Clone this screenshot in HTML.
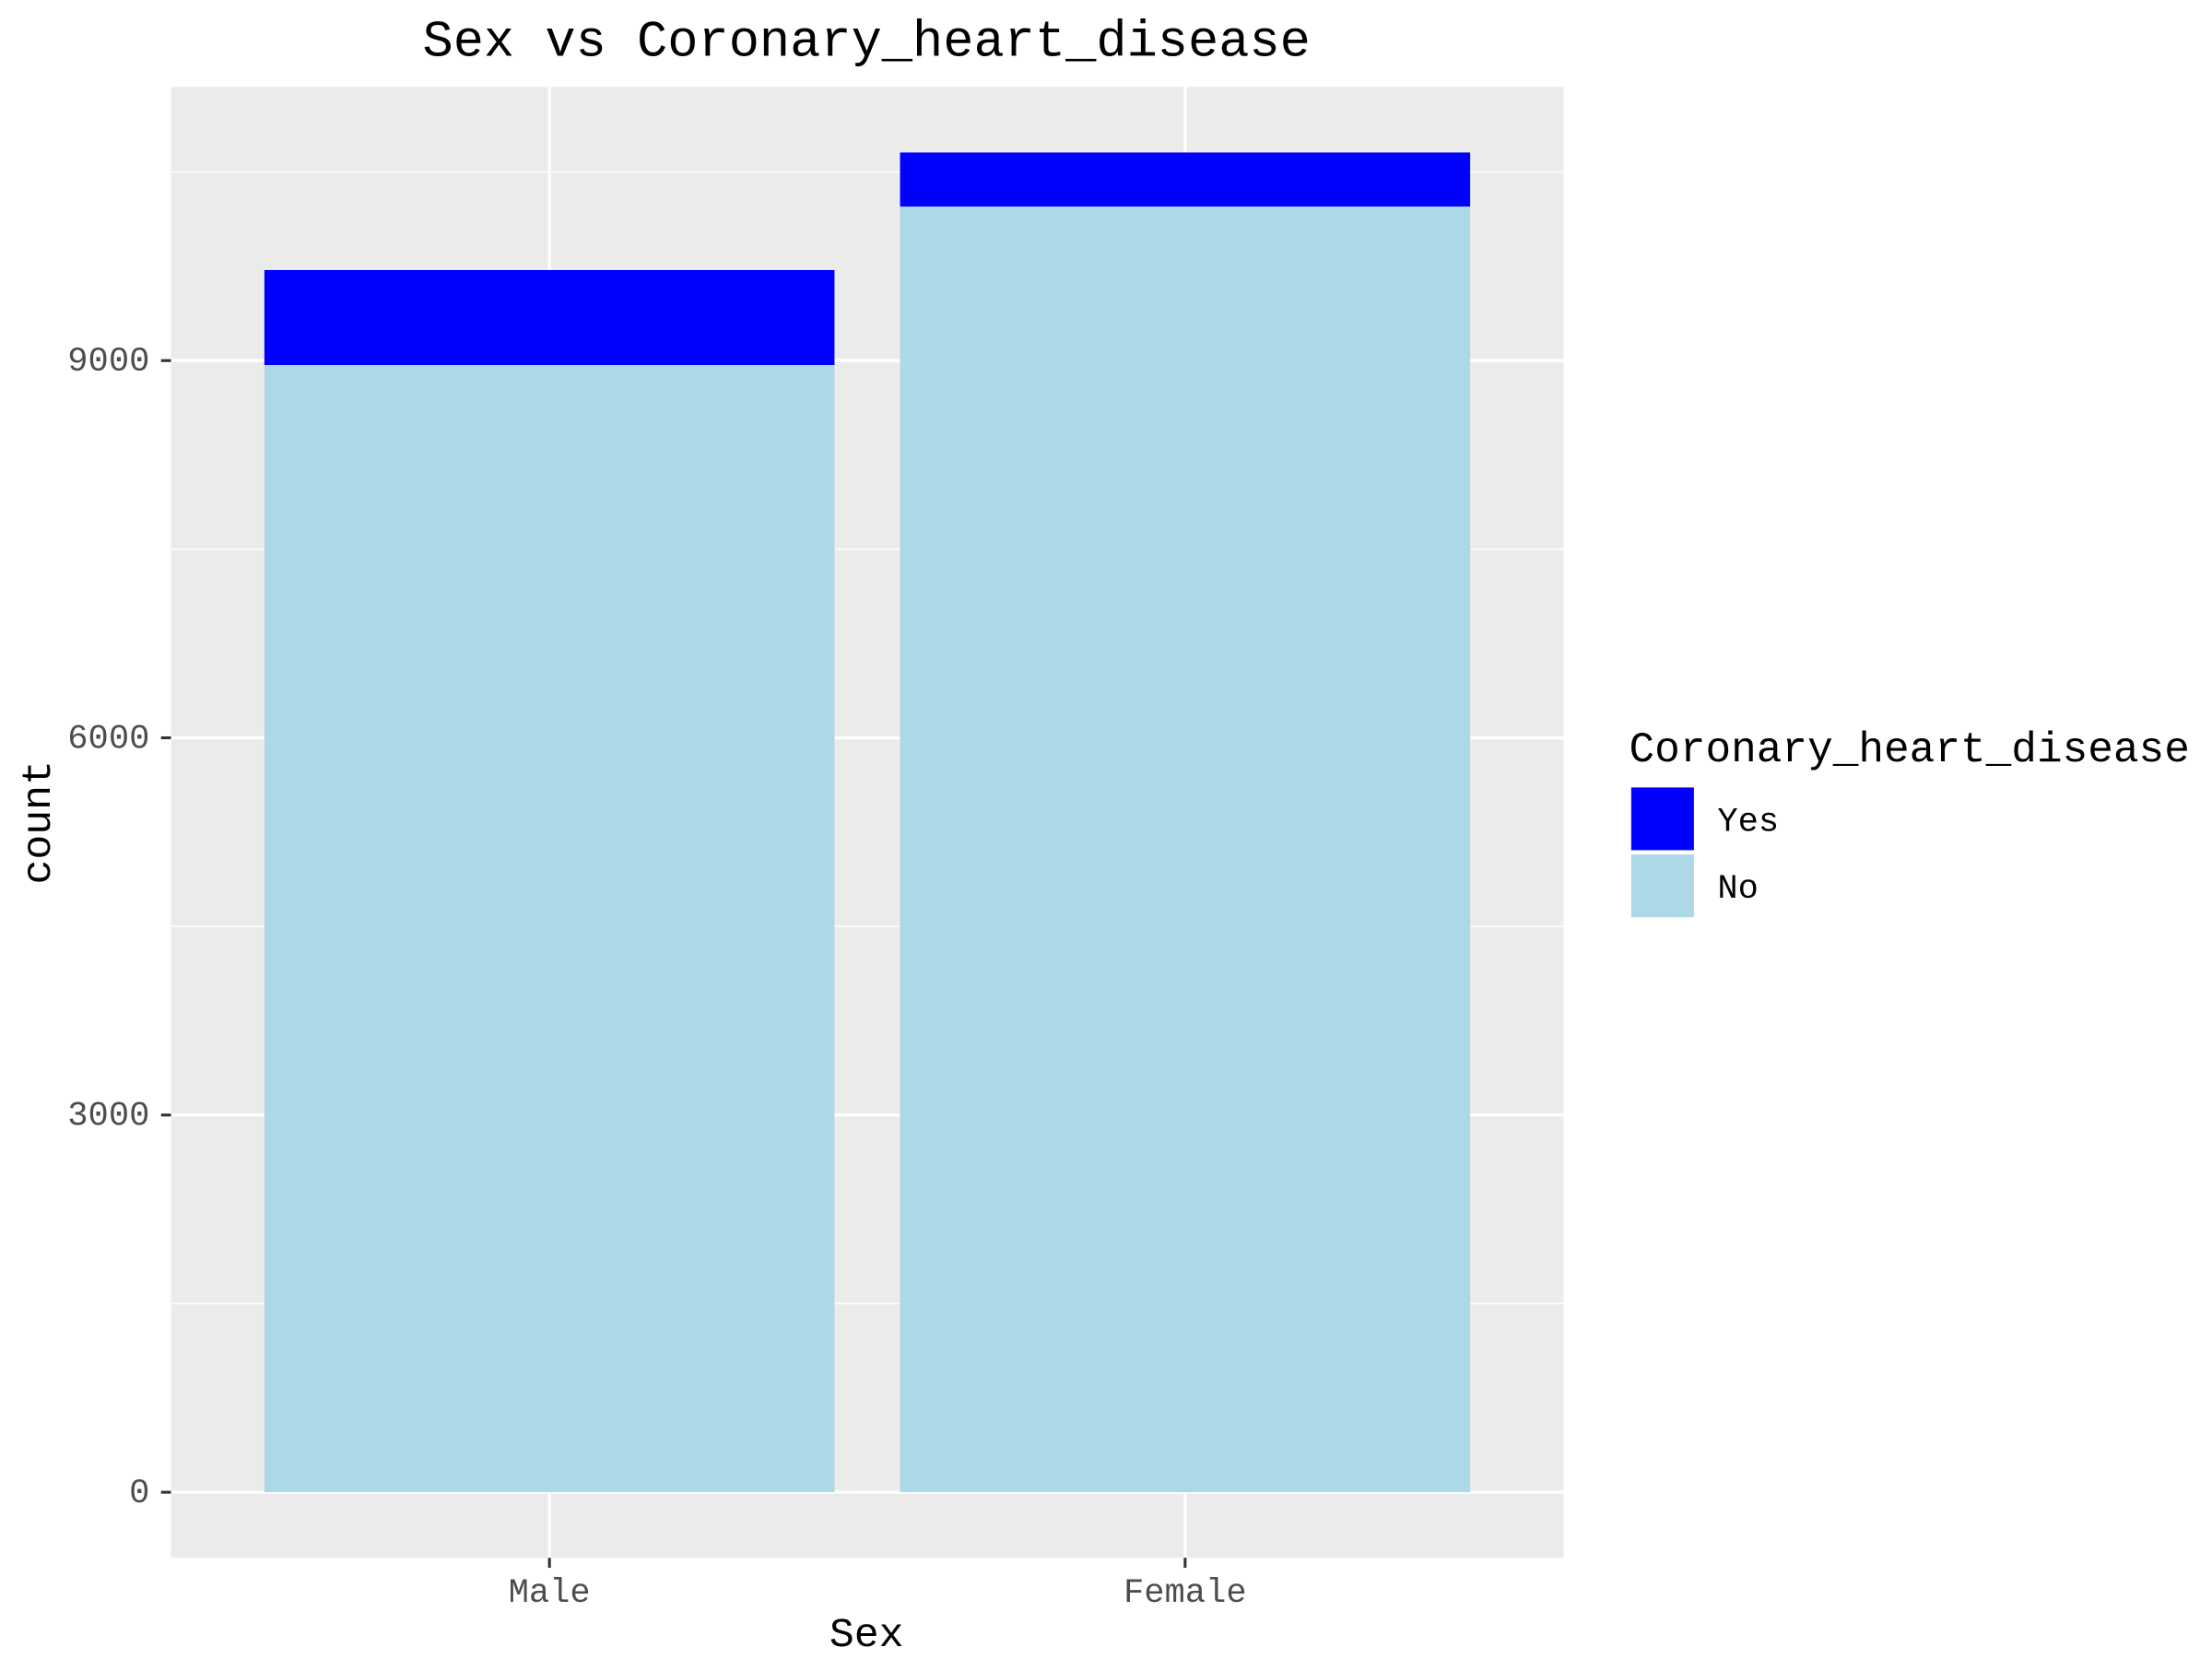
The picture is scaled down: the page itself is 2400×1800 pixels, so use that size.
<!DOCTYPE html>
<html><head><meta charset="utf-8"><style>
html,body{margin:0;padding:0;background:#fff;}
svg{display:block;}
text{font-family:"Liberation Mono",monospace;}
</style></head><body>
<svg id="chart" width="2400" height="1800" viewBox="0 0 1552 1164" preserveAspectRatio="none">
<rect x="0" y="0" width="1552" height="1164" fill="#fff"/>
<rect x="120" y="61" width="977" height="1032" fill="#ebebeb"/>
<g id="grid"></g>
<g id="bars"></g>
<g id="axes"></g>
<text x="608" y="39" font-size="35.8" text-anchor="middle" fill="#000">Sex vs Coronary_heart_disease</text>
<text x="608" y="1155" font-size="29" text-anchor="middle" fill="#000">Sex</text>
<text x="35" y="577" font-size="29" text-anchor="middle" fill="#000" transform="rotate(-90 35 577)">count</text>
<g>
<text x="1143" y="534" font-size="29.8" fill="#000">Coronary_heart_disease</text>
<rect x="1144" y="552" width="45" height="45" fill="#0000ff" stroke="#fff"/>
<text x="1205" y="583" font-size="24" fill="#000">Yes</text>
<rect x="1144" y="599" width="45" height="45" fill="#add8e6" stroke="#fff"/>
<text x="1205" y="630" font-size="24" fill="#000">No</text>
</g>
</svg>
<script>
const categories = ["Male", "Female"];
const noValues = [8965, 10225];
const yesValues = [755, 430];
const yTicks = [0, 3000, 6000, 9000];
const yMinor = [1500, 4500, 7500, 10500];

const NS = "http://www.w3.org/2000/svg";
const y0 = 1047, pxPer = (1047 - 253) / 9000;
function yScale(v){ return y0 - v * pxPer; }
const xCenters0 = 385.5, xStep = 446, barW = 400;
function xScale(i){ return xCenters0 + i * xStep; }
function mk(tag, attrs, parent){ const e=document.createElementNS(NS,tag); for(const k in attrs) e.setAttribute(k,attrs[k]); parent.appendChild(e); return e; }

const grid = document.getElementById('grid');
const bars = document.getElementById('bars');
const axes = document.getElementById('axes');

yMinor.forEach(v=>{
  const l = mk('line',{x1:120,x2:1097,y1:yScale(v),y2:yScale(v),stroke:'#fff','stroke-width':1},grid);
  
  
});
yTicks.forEach(v=>{
  const l = mk('line',{x1:120,x2:1097,y1:yScale(v),y2:yScale(v),stroke:'#fff','stroke-width':2.2},grid);
  
  
  const t = mk('line',{x1:113,x2:120,y1:yScale(v),y2:yScale(v),stroke:'#333','stroke-width':2},axes);
  
  
  const tx = mk('text',{x:105,y:yScale(v)+7,'font-size':24,'text-anchor':'end',fill:'#4d4d4d'},axes);
  tx.textContent = v;
  
  
});
categories.forEach((c,i)=>{
  const x = xScale(i);
  const l = mk('line',{x1:x,x2:x,y1:61,y2:1093,stroke:'#fff','stroke-width':2.2},grid);
  
  
  const nb = mk('rect',{x:x-barW/2,y:yScale(noValues[i]),width:barW,height:yScale(0)-yScale(noValues[i]),fill:'#add8e6'},bars);
  
  
  const top = noValues[i]+yesValues[i];
  const yb = mk('rect',{x:x-barW/2,y:yScale(top),width:barW,height:yScale(noValues[i])-yScale(top),fill:'#0000ff'},bars);
  
  
  const t = mk('line',{x1:x,x2:x,y1:1093,y2:1100,stroke:'#333','stroke-width':2},axes);
  
  
  const tx = mk('text',{x:x,y:1124,'font-size':24,'text-anchor':'middle',fill:'#4d4d4d'},axes);
  tx.textContent = c;
  
  
});
</script>
</body></html>
